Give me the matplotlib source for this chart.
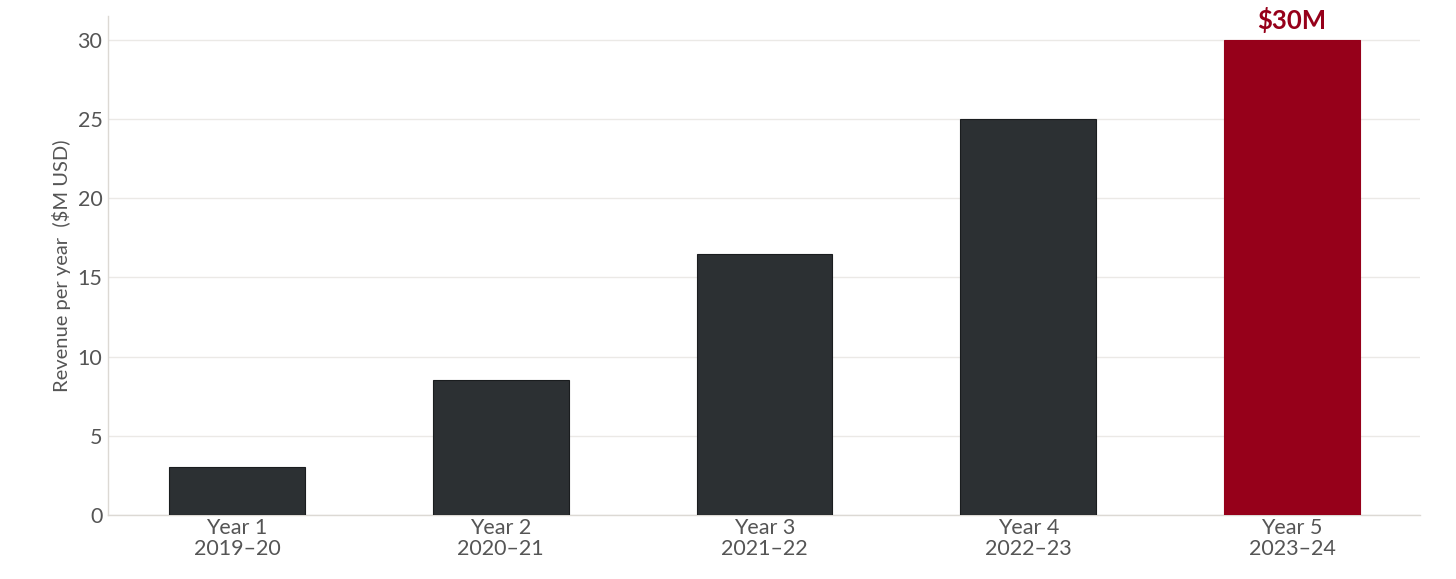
import matplotlib
matplotlib.use("Agg")
import matplotlib.pyplot as plt

# Revenue per year, $M USD
years = ["Year 1\n2019\u201320", "Year 2\n2020\u201321", "Year 3\n2021\u201322",
         "Year 4\n2022\u201323", "Year 5\n2023\u201324"]
revenue = [3, 8.5, 16.5, 25, 30]
highlight_label = "$30M"

dark = "#2c3033"
red = "#96001a"
grey_text = "#555555"

plt.rcParams['font.family'] = ['Lato', 'DejaVu Sans']

fig = plt.figure(figsize=(14.56, 5.79), dpi=100)
ax = fig.add_axes([108 / 1456, 1 - 515 / 579, (1420 - 108) / 1456, (515 - 16) / 579])

colors = [dark] * (len(revenue) - 1) + [red]
edges = ["#1a1d1f"] * (len(revenue) - 1) + [red]
x = list(range(len(revenue)))
ax.bar(x, revenue, width=0.515, color=colors, edgecolor=edges, linewidth=0.8, zorder=3)

ax.text(x[-1], revenue[-1] + 0.45, highlight_label, ha="center", va="bottom",
        color=red, fontsize=18.5, fontweight="bold")

ax.set_xlim(-0.489, 4.485)
ax.set_ylim(0, 31.5)
ax.set_yticks([0, 5, 10, 15, 20, 25, 30])
ax.set_xticks(x)
ax.set_xticklabels(years, linespacing=1.1)
ax.tick_params(axis="both", length=0, labelsize=15.5, labelcolor=grey_text)
ax.tick_params(axis="y", pad=4)
ax.tick_params(axis="x", pad=2)

ax.set_ylabel("Revenue per year  ($M USD)", fontsize=14.5, color=grey_text, labelpad=5)

ax.grid(axis="y", color="#ebe9e6", linewidth=1, zorder=0)
for side in ["top", "right"]:
    ax.spines[side].set_visible(False)
for side in ["left", "bottom"]:
    ax.spines[side].set_color("#dcd9d4")
    ax.spines[side].set_linewidth(1)

fig.savefig("out.png", dpi=100)
